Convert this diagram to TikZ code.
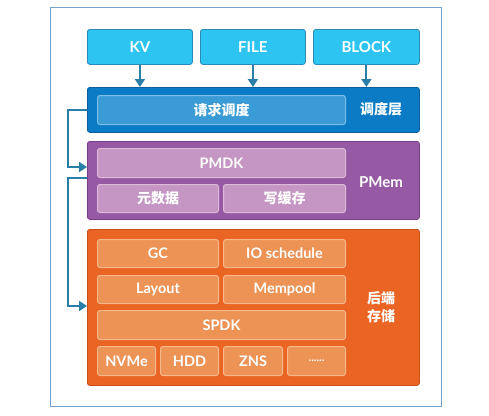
\documentclass[tikz,border=0pt]{standalone}
\usepackage{fontspec}
\setmainfont{Lato}
\newfontfamily\cjk{Noto Sans CJK SC}
\usetikzlibrary{arrows.meta}
\definecolor{frame}{HTML}{74A3CF}
\definecolor{topfill}{HTML}{2EC4F2}
\definecolor{topdraw}{HTML}{2A8AB5}
\definecolor{arr}{HTML}{2A7FA8}
\definecolor{schfill}{HTML}{0A7BC4}
\definecolor{schdraw}{HTML}{0B5E9A}
\definecolor{schin}{HTML}{3A9BD7}
\definecolor{schinb}{HTML}{7CC0EA}
\definecolor{pmfill}{HTML}{965AA4}
\definecolor{pmdraw}{HTML}{7A3F88}
\definecolor{pmin}{HTML}{C596C3}
\definecolor{pminb}{HTML}{DDB9DA}
\definecolor{befill}{HTML}{EA6424}
\definecolor{bedraw}{HTML}{C94E18}
\definecolor{bein}{HTML}{EC9355}
\definecolor{beinb}{HTML}{F5B98C}
\tikzset{
  x=1pt,y=-1pt,
  box/.style={rounded corners=2.5pt,line width=0.8pt},
  topbox/.style={box,fill=topfill,draw=topdraw},
  layer/.style={rounded corners=2.5pt,line width=0.8pt},
  inbox/.style={box,line width=1pt},
  lbl/.style={text=white,font=\bfseries\fontsize{15}{16}\selectfont},
  sml/.style={text=white,font=\bfseries\fontsize{14.5}{16}\selectfont},
  cn/.style={text=white,font=\cjk\bfseries\fontsize{14}{16}\selectfont},
  conn/.style={draw=arr,line width=2pt,-{Triangle[length=8pt,width=10pt]}},
}
\newcommand{\bx}[6]{\node[#1,minimum width=#4-#2,minimum height=#5-#3,inner sep=0pt,anchor=north west] (#6) at (#2,#3) {};}
\begin{document}
\begin{tikzpicture}
\useasboundingbox (0,0) rectangle (489,415);
\draw[frame,line width=1pt] (50,7) rectangle (441,406);
% top boxes
\bx{topbox}{87}{29}{192}{64}{kv}
\bx{topbox}{200}{29}{305}{64}{file}
\bx{topbox}{313}{29}{419}{64}{block}
\node[lbl] at (kv.center) {KV};
\node[lbl] at (file.center) {FILE};
\node[lbl] at (block.center) {BLOCK};
% layers
\bx{layer,fill=schfill,draw=schdraw}{87}{87}{419}{132}{sch}
\bx{layer,fill=pmfill,draw=pmdraw}{87}{141}{419}{219}{pm}
\bx{layer,fill=befill,draw=bedraw}{87}{229}{419}{385}{be}
% arrows top
\draw[conn] (kv.south) -- (kv.south |- sch.north);
\draw[conn] (file.south) -- (file.south |- sch.north);
\draw[conn] (block.south) -- (block.south |- sch.north);
% scheduling
\bx{inbox,fill=schin,draw=schinb}{97}{95}{345}{124}{req}
\node[cn] at (req.center) {请求调度};
\node[cn] (schl) at (381,109) {调度层};
% pmem
\bx{inbox,fill=pmin,draw=pminb}{97}{148}{345}{177}{pmdk}
\bx{inbox,fill=pmin,draw=pminb}{97}{184}{218}{212}{meta}
\bx{inbox,fill=pmin,draw=pminb}{223}{184}{345}{212}{wc}
\node[sml] at (pmdk.center) {PMDK};
\node[cn] at (meta.center) {元数据};
\node[cn] at (wc.center) {写缓存};
\node[lbl] (pml) at (381,182) {PMem};
% backend
\bx{inbox,fill=bein,draw=beinb}{97}{239}{218}{267}{gc}
\bx{inbox,fill=bein,draw=beinb}{223}{239}{345}{267}{ios}
\bx{inbox,fill=bein,draw=beinb}{97}{275}{218}{303}{lay}
\bx{inbox,fill=bein,draw=beinb}{223}{275}{345}{303}{mp}
\bx{inbox,fill=bein,draw=beinb}{97}{310}{345}{339}{spdk}
\bx{inbox,fill=bein,draw=beinb}{97}{346}{155}{375}{nvme}
\bx{inbox,fill=bein,draw=beinb}{160}{346}{218}{375}{hdd}
\bx{inbox,fill=bein,draw=beinb}{223}{346}{282}{375}{zns}
\bx{inbox,fill=bein,draw=beinb}{287}{346}{345}{375}{dots}
\node[sml] at (gc.center) {GC};
\node[sml] at (ios.center) {IO schedule};
\node[sml] at (lay.center) {Layout};
\node[sml] at (mp.center) {Mempool};
\node[sml] at (spdk.center) {SPDK};
\node[sml] at (nvme.center) {NVMe};
\node[sml] at (hdd.center) {HDD};
\node[sml] at (zns.center) {ZNS};
\node[sml,font=\bfseries\fontsize{11}{12}\selectfont] at (dots.center) {......};
\node[cn,align=center,font=\cjk\bfseries\fontsize{14}{18}\selectfont] (bel) at (381,307) {后端\\存储};
% left connectors
\coordinate (c1) at (68,110);
\coordinate (c2) at (68,178);
\draw[conn] (sch.west |- c1) -- (c1) |- (pm.west |- 0,167);
\draw[conn] (pm.west |- c2) -- (c2) |- (be.west |- 0,306);
\end{tikzpicture}
\end{document}
